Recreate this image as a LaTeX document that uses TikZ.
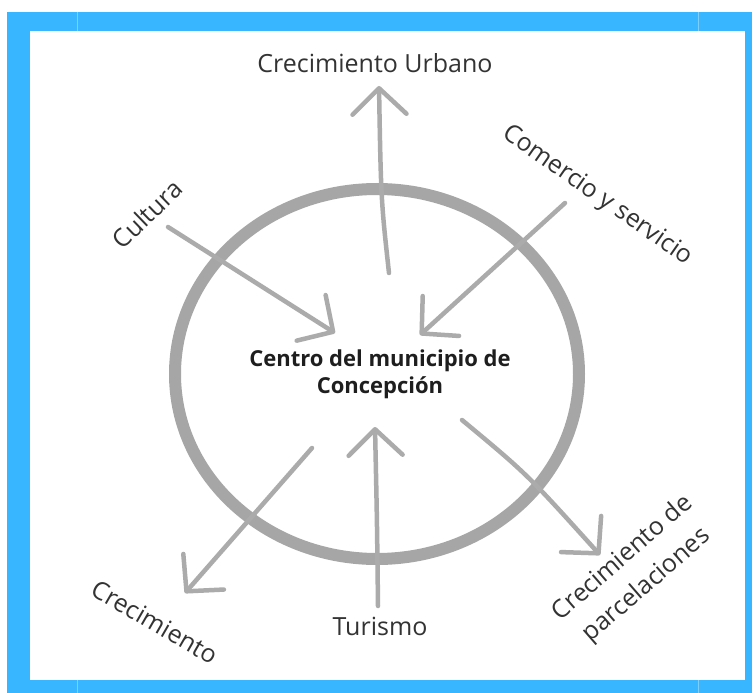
\documentclass[tikz,border=0pt]{standalone}
\usepackage{fontspec}
\setmainfont{Open Sans}
\usetikzlibrary{arrows.meta,shapes.geometric}
\definecolor{framblue}{HTML}{38B6FF}
\definecolor{ringgray}{HTML}{A6A6A6}
\definecolor{arrgray}{HTML}{ABABAB}
\definecolor{txtgray}{HTML}{333333}
\definecolor{ctrtext}{HTML}{1E1E1E}
\begin{document}
\begin{tikzpicture}[x=1pt,y=-1pt,
  lbl/.style={font=\fontsize{25}{36}\selectfont, text=txtgray, inner sep=0pt, align=center},
  flow/.style={draw=arrgray, line width=4.5pt, line cap=round, line join=round,
    -{Straight Barb[length=26pt,width=54pt,round]}},
  ring/.style={draw=ringgray, line width=12pt, ellipse, minimum width=404pt, minimum height=370pt, inner sep=0pt}]
\useasboundingbox (0,0) rectangle (756,693);
% frame
\fill[framblue] (7,12) rectangle (752,693);
\fill[white] (30,31) rectangle (745,680);
\draw[white, opacity=0.35, line width=0.8pt] (77,12) -- (77,31) (698,12) -- (698,31)
  (77,680) -- (77,693) (698,680) -- (698,693);
% ring and centre
\node[ring] (ringnode) at (377,374) {};
\node[font=\bfseries\fontsize{22}{27}\selectfont, text=ctrtext, align=center, inner sep=0pt] (centre) at (380,374)
  {Centro del municipio de\\Concepción};
% labels
\node[lbl] (urb) at (375,63) {Crecimiento Urbano};
\node[lbl, rotate=44] (cult) at (147,214) {Cultura};
\node[lbl, rotate=-35] (com) at (597,196) {Comercio y servicio};
\node[lbl, rotate=-30] (crec) at (155,622) {Crecimiento};
\node[lbl] (tur) at (380,626) {Turismo};
\node[lbl, rotate=41] (parc) at (635,572) {Crecimiento de\\parcelaciones};
% arrow end points
\coordinate (urbA) at (389,273); \coordinate (urbB) at (379,86);
\coordinate (cultA) at (168,227); \coordinate (cultB) at (335,333);
\coordinate (comA) at (565,203); \coordinate (comB) at (420,335);
\coordinate (turA) at (378,606); \coordinate (turB) at (375,427);
\coordinate (crecA) at (312,448); \coordinate (crecB) at (185,593);
\coordinate (parcA) at (462,420); \coordinate (parcB) at (600,555);
% arrows
\draw[flow] (urbA) .. controls (381,200) .. (urbB);
\draw[flow] (cultA) -- (cultB);
\draw[flow] (comA) -- (comB);
\draw[flow] (turA) .. controls (377,520) .. (turB);
\draw[flow] (crecA) -- (crecB);
\draw[flow] (parcA) .. controls (527,474) .. (parcB);
\end{tikzpicture}
\end{document}
